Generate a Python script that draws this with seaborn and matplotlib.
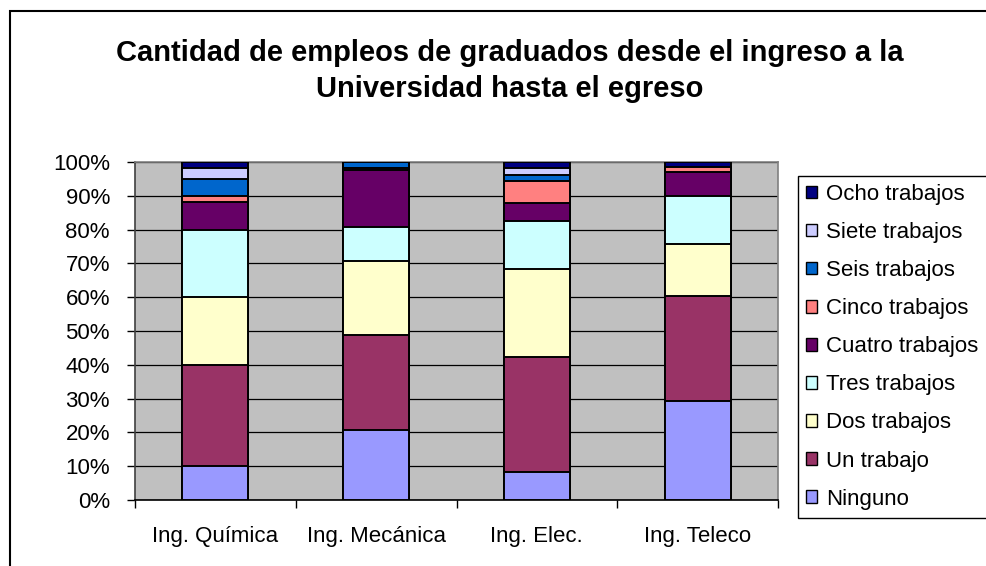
import matplotlib
matplotlib.use("Agg")
import matplotlib.pyplot as plt
import seaborn as sns
import numpy as np
import pandas as pd
from matplotlib.patches import Rectangle, Patch
from matplotlib.ticker import FixedLocator

categories = ["Ing. Química", "Ing. Mecánica", "Ing. Elec.", "Ing. Teleco"]
series = ["Ninguno", "Un trabajo", "Dos trabajos", "Tres trabajos",
          "Cuatro trabajos", "Cinco trabajos", "Seis trabajos",
          "Siete trabajos", "Ocho trabajos"]
ninguno = [10.0, 20.7, 8.3, 29.3]
un_trabajo = [30.0, 28.0, 33.9, 31.1]
dos_trabajos = [20.0, 21.9, 26.2, 15.4]
tres_trabajos = [20.0, 10.2, 14.0, 14.0]
cuatro_trabajos = [8.3, 16.7, 5.4, 7.1]
cinco_trabajos = [1.5, 0.8, 6.7, 1.5]
seis_trabajos = [5.2, 1.7, 1.7, 0.0]
siete_trabajos = [3.1, 0.0, 2.1, 0.0]
ocho_trabajos = [1.9, 0.0, 1.7, 1.6]
y_ticks = [0, 10, 20, 30, 40, 50, 60, 70, 80, 90, 100]

colors = ["#9999FF", "#993366", "#FFFFCC", "#CCFFFF", "#660066",
          "#FF8080", "#0066CC", "#CCCCFF", "#000080"]

values = np.array([ninguno, un_trabajo, dos_trabajos, tres_trabajos,
                   cuatro_trabajos, cinco_trabajos, seis_trabajos,
                   siete_trabajos, ocho_trabajos], dtype=float)
values = values / values.sum(axis=0) * 100
cum = values.cumsum(axis=0)

sns.set_theme(style="white")
plt.rcParams['font.family'] = ['Liberation Sans', 'DejaVu Sans']

W, H = 986, 566
fig = plt.figure(figsize=(W / 100, H / 100), dpi=100)
fig.patch.set_facecolor("white")

ax = fig.add_axes([135 / W, 1 - 500 / H, (778 - 135) / W, (500 - 162) / H])
ax.set_facecolor("#C0C0C0")

for i in range(len(series) - 1, -1, -1):
    df = pd.DataFrame({"cat": categories, "val": cum[i]})
    sns.barplot(data=df, x="cat", y="val", order=categories, color=colors[i],
                saturation=1, width=0.41, edgecolor="black", linewidth=1.4,
                ax=ax, zorder=3)

ax.set_xlim(-0.5, 3.5)
ax.set_ylim(0, 100)
ax.set_yticks(y_ticks)
ax.set_yticklabels([f"{t}%" for t in y_ticks])
ax.yaxis.grid(True, color="black", linewidth=0.9)
ax.xaxis.grid(False)
ax.set_axisbelow(True)
ax.set_xlabel("")
ax.set_ylabel("")

ax.xaxis.set_minor_locator(FixedLocator([-0.5, 0.5, 1.5, 2.5, 3.5]))
ax.tick_params(axis="x", which="major", length=0, pad=19, labelsize=16,
               labelcolor="black")
ax.tick_params(axis="x", which="minor", length=6, width=1, color="black",
               direction="out", bottom=True)
ax.tick_params(axis="y", which="major", length=6, width=1, color="black",
               direction="out", left=True, pad=12, labelsize=16,
               labelcolor="black")

for s in ["top", "right"]:
    ax.spines[s].set_color("#808080")
    ax.spines[s].set_linewidth(1.2)
ax.spines["left"].set_color("#404040")
ax.spines["bottom"].set_color("black")
for s in ["left", "bottom"]:
    ax.spines[s].set_linewidth(1.2)
    ax.spines[s].set_visible(True)

fig.text(510 / W, 1 - 39 / H,
         "Cantidad de empleos de graduados desde el ingreso a la\nUniversidad hasta el egreso",
         ha="center", va="top", fontsize=21, fontweight="bold",
         linespacing=1.38, color="black")

# legend box (extends past the right edge, as in the reference)
legend_box = Rectangle((798 / W, 1 - 518 / H), 220 / W, 342 / H,
                       transform=fig.transFigure, facecolor="white",
                       edgecolor="black", linewidth=1.0, zorder=4)
fig.patches.append(legend_box)

handles = [Patch(facecolor=colors[i], edgecolor="black", linewidth=1.0)
           for i in range(len(series) - 1, -1, -1)]
labels = [series[i] for i in range(len(series) - 1, -1, -1)]
leg = fig.legend(handles, labels, loc="upper left",
                 bbox_to_anchor=(798 / W, 1 - 176 / H),
                 frameon=False,
                 fontsize=16, handlelength=0.5, handleheight=0.5,
                 handletextpad=0.4, labelspacing=0.77, borderpad=0.35,
                 borderaxespad=0)
leg.set_zorder(5)
for t in leg.get_texts():
    t.set_color("black")

border = Rectangle((10 / W, -0.05), 1.0, 1 - 11 / H + 0.05,
                   transform=fig.transFigure, fill=False,
                   edgecolor="black", linewidth=1.5, zorder=10)
fig.patches.append(border)

fig.savefig("out.png", dpi=100, facecolor="white")
